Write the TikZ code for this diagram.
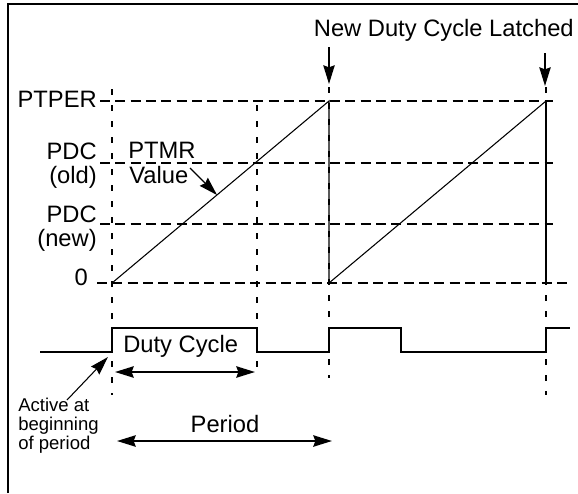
\documentclass[tikz,border=0pt]{standalone}
\usepackage{fontspec}
\setmainfont{Liberation Sans}
\usetikzlibrary{arrows.meta}
\begin{document}
\begin{tikzpicture}[x=0.75pt,y=-0.75pt,
  big/.style={font=\fontsize{17.8pt}{18pt}\selectfont, inner sep=0pt},
  small/.style={font=\fontsize{13.9pt}{14.2pt}\selectfont, inner sep=0pt},
  hdash/.style={line width=1.5pt, dash pattern=on 7.5pt off 4pt},
  vdash/.style={line width=1.5pt, dash pattern=on 4.5pt off 7.5pt},
  ramp/.style={line width=0.8pt},
  pwm/.style={line width=1.7pt},
  arr/.style={line width=1.4pt, -{Stealth[length=14pt,width=8.5pt,inset=1.5pt]}},
  thinarr/.style={line width=0.8pt, -{Stealth[length=14pt,width=8.5pt,inset=1.5pt]}},
  darr/.style={line width=1.5pt, {Stealth[length=14pt,width=8.5pt,inset=1.5pt]}-{Stealth[length=14pt,width=8.5pt,inset=1.5pt]}}]

\useasboundingbox (0,0) rectangle (578,493);

% frame
\coordinate (fbl) at (8,493);
\coordinate (ftl) at (8,4);
\coordinate (ftr) at (578,4);
\draw[line width=1.5pt] (fbl) -- (ftl) -- (ftr);

% horizontal level lines
\coordinate (hpa) at (100,101); \coordinate (hpb) at (553,101);
\coordinate (hoa) at (100,163); \coordinate (hob) at (553,163);
\coordinate (hna) at (100,224); \coordinate (hnb) at (553,224);
\coordinate (hza) at (97,283);  \coordinate (hzb) at (570,283);
\draw[hdash] (hpa) -- (hpb);
\draw[hdash] (hoa) -- (hob);
\draw[hdash] (hna) -- (hnb);
\draw[hdash] (hza) -- (hzb);

% vertical time lines
\coordinate (v1a) at (112,89);  \coordinate (v1b) at (112,395);
\coordinate (v2a) at (257,105); \coordinate (v2b) at (257,367);
\coordinate (v3a) at (329,87);  \coordinate (v3b) at (329,378);
\coordinate (v4a) at (546,87);  \coordinate (v4b) at (546,395);
\draw[vdash] (v1a) -- (v1b);
\draw[vdash] (v2a) -- (v2b);
\draw[vdash] (v3a) -- (v3b);
\draw[vdash] (v4a) -- (v4b);

% ramps
\coordinate (r0) at (112,283);
\coordinate (r1) at (329,101);
\coordinate (r2) at (329,283);
\coordinate (r3) at (546,101);
\coordinate (r4) at (546,283);
\draw[ramp] (r0) -- (r1) -- (r2) -- (r3);
\draw[line width=1.6pt] (r3) -- (r4);

% PWM signal
\coordinate (p0) at (40,352);
\coordinate (p1) at (112,352);  \coordinate (p2) at (112,328);
\coordinate (p3) at (257,328);  \coordinate (p4) at (257,352);
\coordinate (p5) at (329,352);  \coordinate (p6) at (329,328);
\coordinate (p7) at (401,328);  \coordinate (p8) at (401,352);
\coordinate (p9) at (546,352);  \coordinate (p10) at (546,328);
\coordinate (p11) at (570,328);
\draw[pwm] (p0) -- (p1) -- (p2) -- (p3) -- (p4) -- (p5) -- (p6) -- (p7) -- (p8) -- (p9) -- (p10) -- (p11);

% level labels
\node[big, anchor=base east] (ptper) at (97,107) {PTPER};
\node[big, anchor=base east] (pdcold) at (97,159) {PDC};
\node[big, anchor=base east] (old) at (97,183) {(old)};
\node[big, anchor=base east] (pdcnew) at (97,222) {PDC};
\node[big, anchor=base east] (new) at (97,246) {(new)};
\node[big, anchor=base east] (zero) at (88,285) {0};

% PTMR value
\node[big, anchor=base west] (ptmr) at (128,158) {PTMR};
\node[big, anchor=base west] (value) at (129,183) {Value};
\coordinate (pva) at (190,168);
\coordinate (pvb) at (217,195);
\draw[thinarr] (pva) -- (pvb);

% latched
\node[big, anchor=base east] (latched) at (574,36) {New Duty Cycle Latched};
\coordinate (la1) at (329,47); \coordinate (lb1) at (329,84);
\coordinate (la2) at (545,53); \coordinate (lb2) at (545,86);
\draw[arr] (la1) -- (lb1);
\draw[arr] (la2) -- (lb2);

% duty cycle
\node[big, anchor=base west] (duty) at (123,352) {Duty Cycle};
\coordinate (da) at (115,372); \coordinate (db) at (255,372);
\draw[darr] (da) -- (db);

% period
\node[big, anchor=base] (period) at (225,432) {Period};
\coordinate (pea) at (117,441); \coordinate (peb) at (332,441);
\draw[darr] (pea) -- (peb);

% active note
\node[small, anchor=base west] (act1) at (18,411) {Active at};
\node[small, anchor=base west] (act2) at (18,430) {beginning};
\node[small, anchor=base west] (act3) at (18,449) {of period};
\coordinate (aa) at (67,400);
\coordinate (ab) at (108,357);
\draw[thinarr] (aa) -- (ab);
\end{tikzpicture}
\end{document}
